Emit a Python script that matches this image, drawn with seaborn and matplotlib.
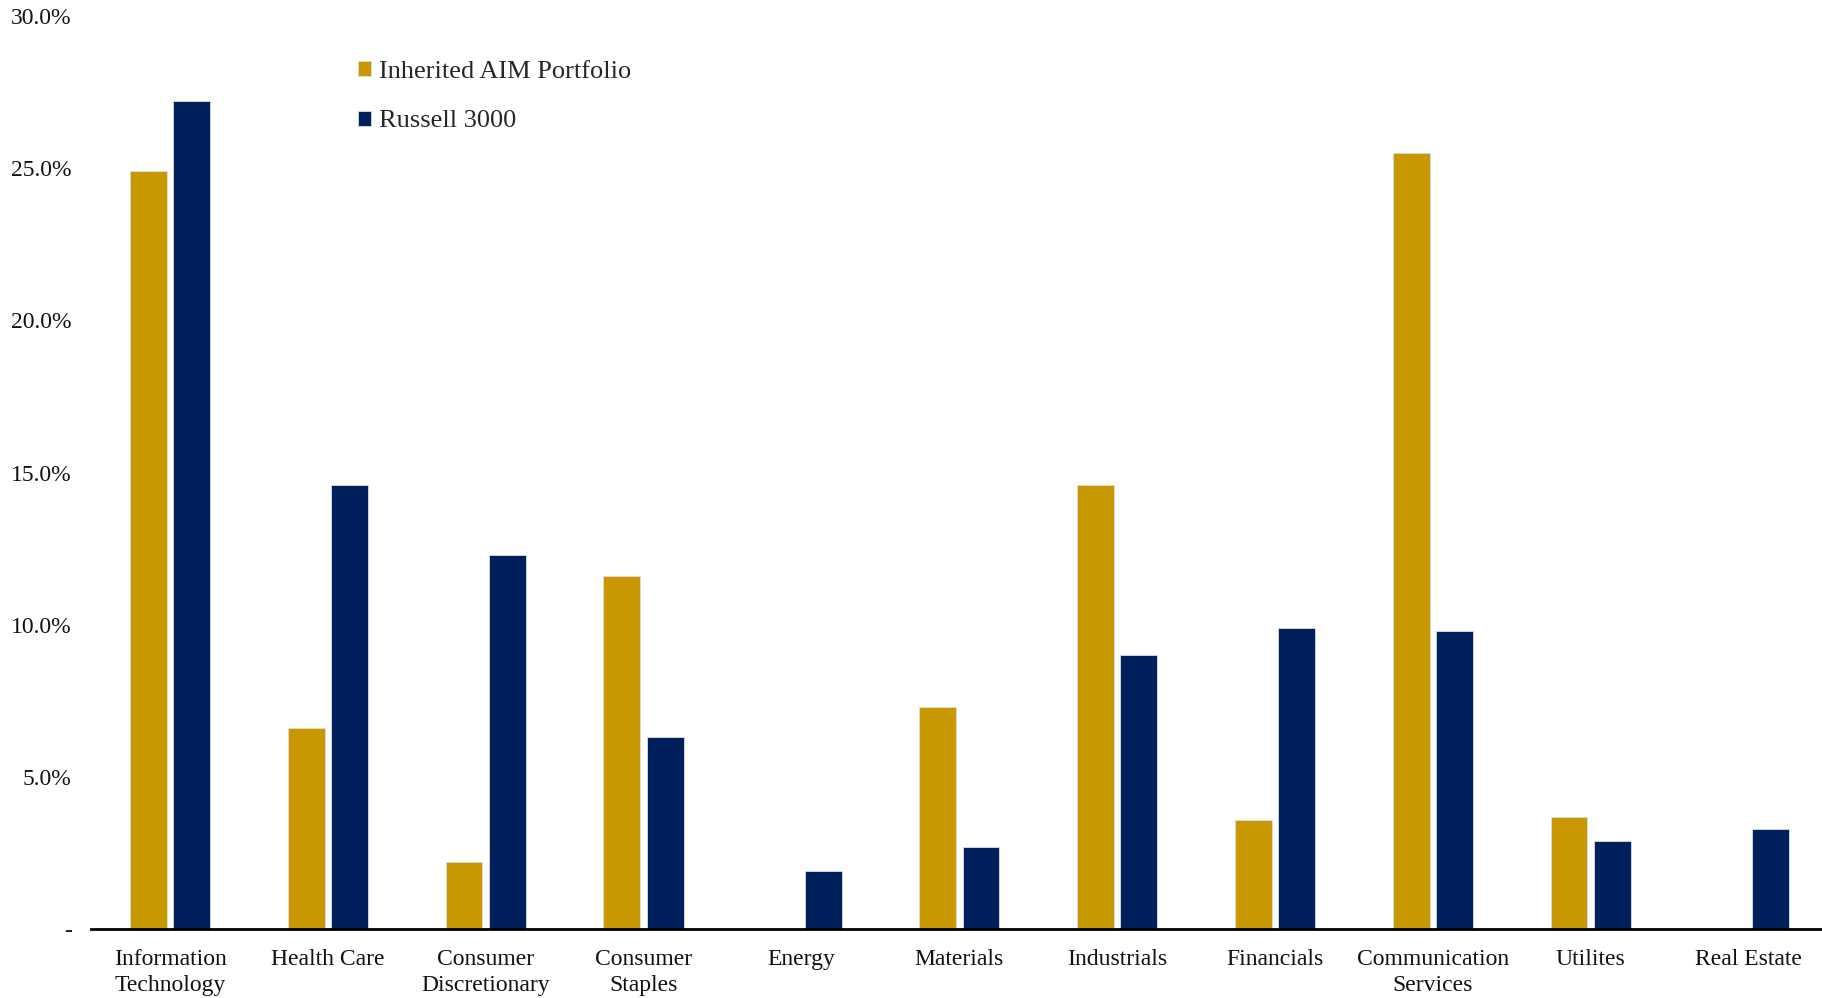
import pandas as pd
import matplotlib.pyplot as plt
import seaborn as sns
from matplotlib.ticker import FuncFormatter, MultipleLocator

# Datos del gráfico
sectors = ["Information\nTechnology", "Health Care", "Consumer\nDiscretionary",
           "Consumer\nStaples", "Energy", "Materials", "Industrials", "Financials",
           "Communication\nServices", "Utilites", "Real Estate"]
aim_portfolio = [24.9, 6.6, 2.2, 11.6, 0.0, 7.3, 14.6, 3.6, 25.5, 3.7, 0.0]
russell_3000 = [27.2, 14.6, 12.3, 6.3, 1.9, 2.7, 9.0, 9.9, 9.8, 2.9, 3.3]
series_names = ["Inherited AIM Portfolio", "Russell 3000"]
colors = ["#C99700", "#00205B"]

df = pd.DataFrame({"sector": sectors * 2,
                   "weight": aim_portfolio + russell_3000,
                   "series": [series_names[0]] * len(sectors) + [series_names[1]] * len(sectors)})

sns.set_style("white")
plt.rcParams['font.family'] = ['Liberation Serif', 'DejaVu Serif']

fig = plt.figure(figsize=(18.22, 9.98), dpi=100)
ax = fig.add_axes([0.05, 0.069, 0.953, 0.915])

sns.barplot(data=df, x="sector", y="weight", hue="series", palette=colors,
            saturation=1, width=0.55, gap=0.15, edgecolor="#dddddd", linewidth=0.6, ax=ax)

ax.set_ylim(0, 30)
ax.set_xlim(-0.5, 10.5)
ax.yaxis.set_major_locator(MultipleLocator(5))
ax.yaxis.set_major_formatter(FuncFormatter(lambda v, p: "-" if v == 0 else f"{v:.1f}%"))
ax.set_xlabel("")
ax.set_ylabel("")
ax.tick_params(axis='both', length=0, labelsize=17, colors="#111111")
ax.tick_params(axis='y', pad=14)
ax.tick_params(axis='x', pad=14)
for lbl in ax.get_xticklabels():
    lbl.set_linespacing(1.35)

for s in ["top", "right", "left"]:
    ax.spines[s].set_visible(False)
ax.spines["bottom"].set_color("black")
ax.spines["bottom"].set_linewidth(2)

leg = ax.legend(loc="upper left", bbox_to_anchor=(0.14, 0.977), frameon=False,
                fontsize=19, handlelength=0.5, handleheight=0.5, handletextpad=0.3,
                labelspacing=1.05)

plt.savefig("out.png", dpi=100)
